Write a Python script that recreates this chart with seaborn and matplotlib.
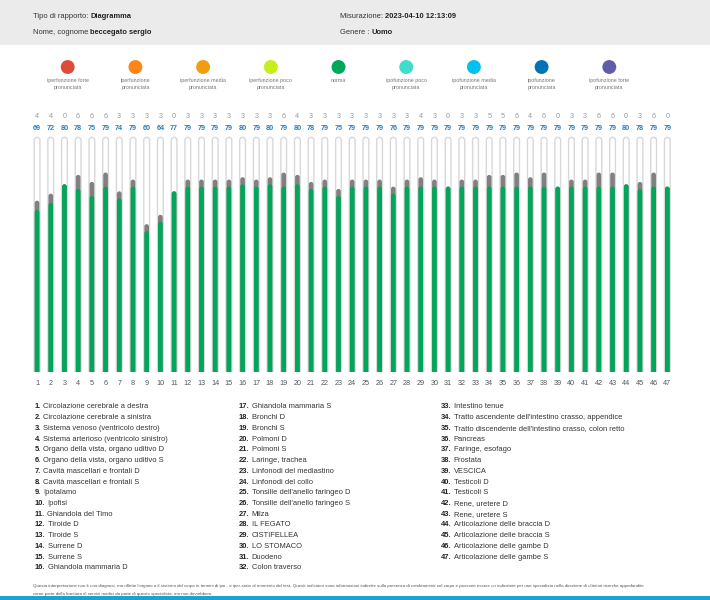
import matplotlib
matplotlib.use("Agg")
import matplotlib.pyplot as plt
from matplotlib.patches import FancyBboxPatch, Rectangle
import seaborn as sns
import pandas as pd

organs = [
    "Circolazione cerebrale a destra", "Circolazione cerebrale a sinistra",
    "Sistema venoso (ventricolo destro)", "Sistema arterioso (ventricolo sinistro)",
    "Organo della vista, organo uditivo D", "Organo della vista, organo uditivo S",
    "Cavità mascellari e frontali D", "Cavità mascellari e frontali S",
    "Ipotalamo", "Ipofisi", "Ghiandola del Timo", "Tiroide D", "Tiroide S",
    "Surrene D", "Surrene S", "Ghiandola mammaria D",
    "Ghiandola mammaria S", "Bronchi D", "Bronchi S", "Polmoni D", "Polmoni S",
    "Laringe, trachea", "Linfonodi del mediastino", "Linfonodi del collo",
    "Tonsille dell'anello faringeo D", "Tonsille dell'anello faringeo S",
    "Milza", "IL FEGATO", "CISTIFELLEA", "LO STOMACO", "Duodeno", "Colon traverso",
    "Intestino tenue", "Tratto ascendente dell'intestino crasso, appendice",
    "Tratto discendente dell'intestino crasso, colon retto", "Pancreas",
    "Faringe, esofago", "Prostata", "VESCICA", "Testicoli D", "Testicoli S",
    "Rene, uretere D", "Rene, uretere S", "Articolazione delle braccia D",
    "Articolazione delle braccia S", "Articolazione delle gambe D",
    "Articolazione delle gambe S",
]
values = [69, 72, 80, 78, 75, 79, 74, 79, 60, 64, 77, 79, 79, 79, 79, 80,
          79, 80, 79, 80, 78, 79, 75, 79, 79, 79, 76, 79, 79, 79, 79, 79, 79,
          79, 79, 79, 79, 79, 79, 79, 79, 79, 79, 80, 78, 79, 79]
deltas = [4, 4, 0, 6, 6, 6, 3, 3, 3, 3, 0, 3, 3, 3, 3, 3,
          3, 3, 6, 4, 3, 3, 3, 3, 3, 3, 3, 3, 4, 3, 0, 3, 3,
          5, 5, 6, 4, 6, 0, 3, 3, 6, 6, 0, 3, 6, 0]
legend_labels = [
    "iperfunzione forte\npronunciata", "iperfunzione\npronunciata",
    "iperfunzione media\npronunciata", "iperfunzione poco\npronunciata", "norma",
    "ipofunzione poco\npronunciata", "ipofunzione media\npronunciata",
    "ipofunzione\npronunciata", "ipofunzione forte\npronunciata",
]
legend_colors = ["#dd4b39", "#ff851b", "#f39c12", "#c5ee1a", "#00a65a",
                 "#3fdccb", "#00c0ef", "#0073b7", "#605ca8"]
footnote = [
    "Questa interpretazione non è una diagnosi, ma riflette l'organo o il sistema del corpo in termini di ipo - o iper-stato al momento del test. "
    "Questi indicatori sono informazioni indirette sulla presenza di cambiamenti nel corpo e possono essere un indicatore per uno specialista nella direzione di ulteriori ricerche approfondite",
    "come parte della fornitura di servizi medici da parte di questo specialista, ma non dovrebbero.",
]

W, H = 710, 600
GREEN = "#00a65a"

sns.set_theme(style="white")
plt.rcParams["font.family"] = ["Liberation Sans", "DejaVu Sans"]

fig = plt.figure(figsize=(W / 100, H / 100), dpi=100)

# tela in pixel per testi e legenda
cax = fig.add_axes([0, 0, 1, 1], zorder=0)
cax.add_patch(Rectangle((0, 0), W, 45, color="#ebebeb", lw=0))
cax.add_patch(Rectangle((0, 596), W, 4, color="#1ba3c9", lw=0))


def label_value(x, y, label, value, size=5.4):
    t = cax.text(x, y, label, fontsize=size, color="#333333", va="center")
    cax.annotate(value, xy=(1, 0), xycoords=t, va="bottom", fontsize=size,
                 fontweight="bold", color="#222222")


label_value(33, 17, "Tipo di rapporto: ", "Diagramma")
label_value(33, 33, "Nome, cognome ", "beccegato sergio")
label_value(340, 17, "Misurazione: ", "2023-04-10 12:13:09")
label_value(340, 33, "Genere : ", "Uomo")

# legenda
leg_x = [67.7 * (i + 1) for i in range(len(legend_labels))]
sns.scatterplot(x=leg_x, y=[67] * len(leg_x), hue=legend_labels,
                palette=legend_colors, s=100, linewidth=0, legend=False, ax=cax)
for x, lab in zip(leg_x, legend_labels):
    cax.text(x, 78, lab, fontsize=3.9, color="#777777", ha="center", va="top",
             linespacing=1.6)

# elenco organi
col_x = [35, 239, 441]
for i, name in enumerate(organs):
    col = min(i // 16, 2)
    row = i - col * 16
    y = 407 + row * 10.72
    t = cax.text(col_x[col], y, f"{i + 1}.", fontsize=5.4, fontweight="bold",
                 color="#222222", va="center")
    cax.annotate(name, xy=(1, 0), xycoords=t, xytext=(2, 0),
                 textcoords="offset pixels", va="bottom", fontsize=5.4,
                 color="#333333")

for k, line in enumerate(footnote):
    cax.text(33, 586 + k * 8, line, fontsize=3.15, color="#555555", va="center")

cax.set_xlim(0, W)
cax.set_ylim(H, 0)
cax.axis("off")

# grafico a barre
df = pd.DataFrame({
    "n": [str(i + 1) for i in range(len(values))],
    "value": values,
    "top": [v + d for v, d in zip(values, deltas)],
    "full": [100] * len(values),
})

ax = fig.add_axes([30.2 / W, 1 - 372 / H, 644 / W, 237 / H], zorder=1)
ax.patch.set_alpha(0)
sns.barplot(data=df, x="n", y="full", color="white", width=0.42, saturation=1,
            errorbar=None, ax=ax)
sns.barplot(data=df, x="n", y="top", color="#808080", width=0.34, saturation=1,
            errorbar=None, ax=ax)
sns.barplot(data=df, x="n", y="value", color=GREEN, width=0.34, saturation=1,
            errorbar=None, ax=ax)
ax.set_ylim(0, 101)
ax.set_xlim(-0.5, len(values) - 0.5)

# barre arrotondate a capsula
p0 = ax.transData.transform((0, 0))
p1 = ax.transData.transform((1, 1))
aspect = (p1[0] - p0[0]) / (p1[1] - p0[1])
rects = list(ax.patches)
for j, r in enumerate(rects):
    x, w, h = r.get_x(), r.get_width(), r.get_height()
    fc = r.get_facecolor()
    r.remove()
    is_frame = j < len(values)
    ax.add_patch(FancyBboxPatch(
        (x, -6), w, h + 6,
        boxstyle=f"round,pad=0,rounding_size={w / 2}",
        mutation_aspect=aspect, facecolor=fc,
        edgecolor="#d8d8d8" if is_frame else "none",
        lw=1 if is_frame else 0, zorder=1 + j // len(values)))

for i, (v, d) in enumerate(zip(values, deltas)):
    ax.annotate(str(d), xy=(i, 100), xytext=(0, 21), textcoords="offset pixels",
                ha="center", va="center", fontsize=5.2, color="#999999",
                annotation_clip=False)
    ax.annotate(str(v), xy=(i, 100), xytext=(0, 9), textcoords="offset pixels",
                ha="center", va="center", fontsize=5.2, fontweight="bold",
                color="#2a7fc4", annotation_clip=False)

ax.set_xlabel("")
ax.set_ylabel("")
ax.set_yticks([])
ax.tick_params(axis="x", length=0, labelsize=5.2, labelcolor="#555555", pad=6)
sns.despine(ax=ax, left=True, bottom=True)

fig.savefig("out.png", dpi=100)
